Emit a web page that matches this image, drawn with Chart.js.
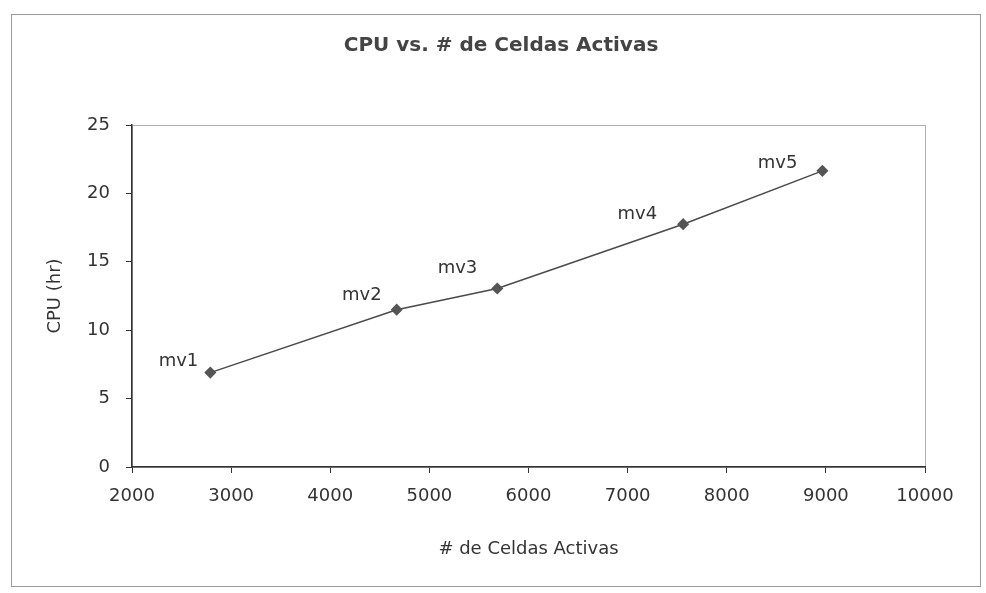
<!DOCTYPE html>
<html>
<head>
<meta charset="utf-8">
<script src="https://cdn.jsdelivr.net/npm/chart.js@4/dist/chart.umd.min.js"></script>
<style>
  html, body { margin: 0; padding: 0; background: #fff; }
  #wrap { width: 986px; height: 593px; }
</style>
</head>
<body>
<div id="wrap"><canvas id="canvas"></canvas></div>
<script>
// data
var chartTitle = "CPU vs. # de Celdas Activas";
var runNames = ["mv1", "mv2", "mv3", "mv4", "mv5"];
var activeCells = [2790, 4670, 5685, 7560, 8965];
var cpuHours = [6.9, 11.5, 13.05, 17.75, 21.65];

var xMin = 2000, xMax = 10000, xStep = 1000;
var yMin = 0, yMax = 25, yStep = 5;

var points = [];
for (var i = 0; i < activeCells.length; i++) {
    points.push({ x: activeCells[i], y: cpuHours[i] });
}

// label placement relative to each marker (right edge / baseline)
var labelShift = [[-12, -7], [-15, -10], [-20, -15], [-26, -5], [-25, -3]];

var fontName = "'DejaVu Sans', 'Liberation Sans', Arial, sans-serif";

var framePlugin = {
    id: 'frame',
    beforeDraw: function (chart) {
        var c = chart.ctx;
        c.save();
        c.fillStyle = '#fff';
        c.fillRect(0, 0, chart.width, chart.height);
        c.strokeStyle = '#9a9a9a';
        c.lineWidth = 1;
        c.strokeRect(11.5, 14.5, 969, 572);
        var a = chart.chartArea;
        c.strokeStyle = '#b0b0b0';
        c.strokeRect(a.left + 0.5, a.top + 0.5, a.right - a.left, a.bottom - a.top);
        // chart title, centred on the frame like the original
        c.font = 'bold 20px ' + fontName;
        c.fillStyle = '#444';
        c.textAlign = 'center';
        c.textBaseline = 'middle';
        c.fillText(chartTitle, 501, 46);
        c.restore();
    },
    afterDatasetsDraw: function (chart) {
        var c = chart.ctx;
        var meta = chart.getDatasetMeta(0);
        c.save();
        c.font = '18px ' + fontName;
        c.fillStyle = '#333';
        c.textAlign = 'right';
        c.textBaseline = 'alphabetic';
        for (var i = 0; i < meta.data.length; i++) {
            var p = meta.data[i];
            c.fillText(runNames[i], p.x + labelShift[i][0], p.y + labelShift[i][1]);
        }
        c.restore();
    }
};

var ctx = document.getElementById("canvas").getContext("2d");

var chart = new Chart(ctx, {
    type: 'scatter',
    data: {
        datasets: [{
            label: 'CPU',
            data: points,
            showLine: true,
            borderColor: '#4a4a4a',
            borderWidth: 1.5,
            pointStyle: 'rectRot',
            pointRadius: 5,
            pointBackgroundColor: '#555',
            pointBorderColor: '#555',
            tension: 0
        }]
    },
    options: {
        responsive: true,
        maintainAspectRatio: false,
        animation: false,
        layout: { padding: { left: 10, right: 61, top: 125, bottom: 30 } },
        plugins: {
            legend: { display: false },
            tooltip: { enabled: false },
            title: { display: false }
        },
        scales: {
            x: {
                type: 'linear',
                min: xMin,
                max: xMax,
                ticks: {
                    stepSize: xStep,
                    color: '#333',
                    font: { family: fontName, size: 18 },
                    padding: 13,
                    maxRotation: 0,
                    callback: function (v) { return v; }
                },
                grid: { display: true, drawOnChartArea: false, tickLength: 6, color: '#333' },
                border: { display: true, color: '#333', width: 1.5 },
                title: {
                    display: true,
                    text: '# de Celdas Activas',
                    color: '#333',
                    font: { family: fontName, size: 18 },
                    padding: { top: 13, bottom: 3 }
                },
                afterFit: function (s) { s.height = 96; }
            },
            y: {
                type: 'linear',
                min: yMin,
                max: yMax,
                ticks: {
                    stepSize: yStep,
                    color: '#333',
                    font: { family: fontName, size: 18 },
                    padding: 16
                },
                grid: { display: true, drawOnChartArea: false, tickLength: 6, color: '#333' },
                border: { display: true, color: '#333', width: 1.5 },
                title: {
                    display: true,
                    text: 'CPU (hr)',
                    color: '#333',
                    font: { family: fontName, size: 18 },
                    padding: { top: 35, bottom: 0 }
                },
                afterFit: function (s) { s.width = 122; }
            }
        }
    },
    plugins: [framePlugin]
});
</script>
</body>
</html>
